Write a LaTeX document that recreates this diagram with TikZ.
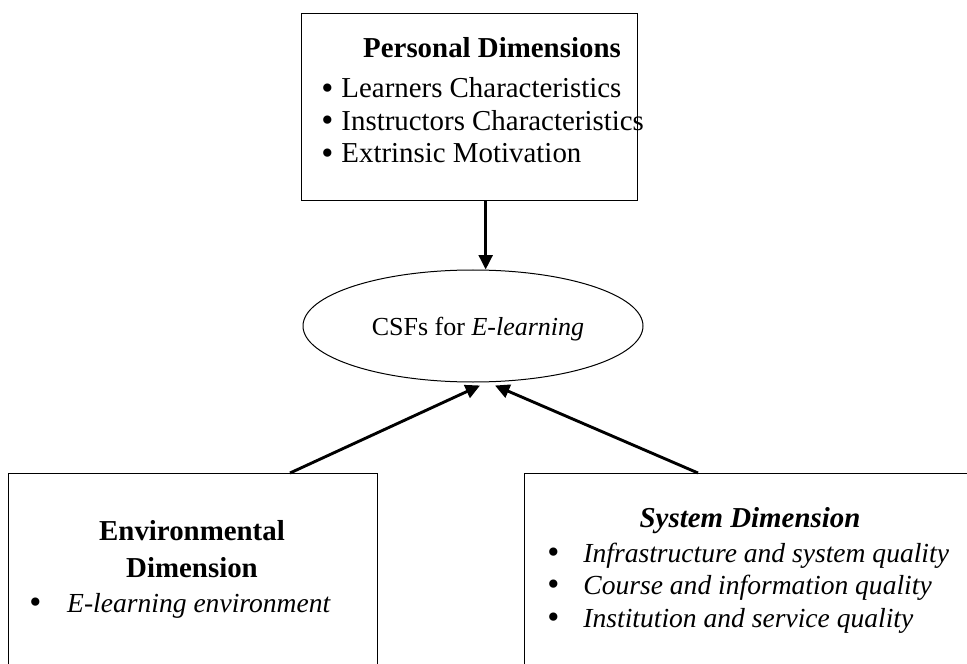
\documentclass[tikz,border=0pt]{standalone}
\usepackage{fontspec}
\setmainfont{Liberation Serif}
\usetikzlibrary{arrows.meta,positioning,calc,shapes.geometric}
\newcommand{\bigbul}{\raisebox{-0.6pt}{\upshape\fontsize{15.5}{14}\selectfont\textbullet}}
\tikzset{
  dimbox/.style={draw=black, line width=0.6pt, inner sep=0pt},
  csfell/.style={draw=black, ellipse, line width=0.45pt, inner sep=0pt,
                 minimum width=153pt, minimum height=50.4pt},
  txt/.style={inner sep=0pt, font=\fontsize{13}{14.8}\selectfont},
  itxt/.style={inner sep=0pt, font=\fontsize{12.4}{14.8}\selectfont\itshape},
  arr/.style={-{Triangle[length=6.5pt, width=6.2pt]}, line width=1.3pt}}

\begin{document}
\begin{tikzpicture}[x=0.45pt, y=-0.45pt]
  \useasboundingbox (0,0) rectangle (967,664);
  \clip (0,0) rectangle (967,664);
  \node[dimbox, minimum width=151.2pt, minimum height=84.15pt, anchor=north west] (personal) at (301,13) {};
  \node[txt, anchor=base] (personalT) at (492,58) {\textbf{Personal Dimensions}};
  \foreach \t [count=\i] in {Learners Characteristics, Instructors Characteristics, Extrinsic Motivation}
    \node[txt, anchor=base west] (pitem\i) at ({321},{98+32.5*(\i-1)}) {\makebox[9pt][l]{\bigbul}\t};

  \node[csfell] (csf) at (473,326) {};
  \node[txt, font=\fontsize{11.7}{14}\selectfont, anchor=base] (csfT) at (478,335) {CSFs for \textit{E-learning}};

  \node[dimbox, minimum width=166pt, minimum height=120pt, anchor=north west] (environ) at (8,473) {};
  \node[txt, anchor=base] (environT1) at (192,540) {\textbf{Environmental}};
  \node[txt, anchor=base] (environT2) at (192,577) {\textbf{Dimension}};
  \node[itxt, anchor=base west] (eitem1) at (29,612) {\makebox[17pt][l]{\bigbul}E-learning environment};

  \node[dimbox, minimum width=210pt, minimum height=120pt, anchor=north west] (system) at (524,473) {};
  \node[txt, anchor=base] (systemT) at (750,527) {\textbf{\textit{System Dimension}}};
  \foreach \t [count=\i] in {Infrastructure and system quality, Course and information quality, Institution and service quality}
    \node[itxt, anchor=base west] (sitem\i) at ({547},{562+32.5*(\i-1)}) {\makebox[16.2pt][l]{\bigbul}\t};

  \coordinate (ptop) at ($(personal.south)+(16,0)$);
  \draw[arr] (ptop) -- (ptop |- csf.north);
  \draw[arr] ($(environ.north west)+(282,0)$) -- ($(csf.south)+(7,3)$);
  \draw[arr] ($(system.north west)+(174,0)$) -- ($(csf.south)+(22,3)$);
\end{tikzpicture}
\end{document}
